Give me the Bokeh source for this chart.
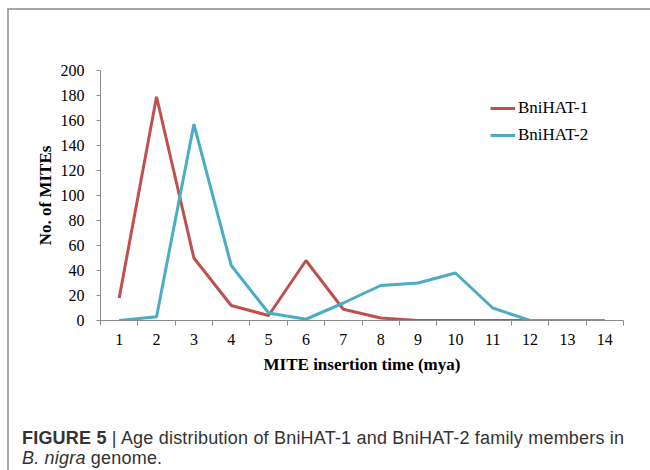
from bokeh.plotting import figure
from bokeh.layouts import column
from bokeh.models import Range1d, FixedTicker, Legend, LegendItem, Div
from bokeh.embed import file_html
from bokeh.resources import INLINE

# ---- data ----
mya = [1, 2, 3, 4, 5, 6, 7, 8, 9, 10, 11, 12, 13, 14]
hat1_x = [1, 2, 3, 4, 5, 6, 7, 8, 9, 10, 11, 12]
hat1 = [18, 179, 50, 12, 4, 48, 9, 2, 0, 0, 0, 0]
hat2 = [0, 3, 157, 44, 6, 1, 14, 28, 30, 38, 10, 0, 0, 0]
y_ticks = [0, 20, 40, 60, 80, 100, 120, 140, 160, 180, 200]
series_names = ["BniHAT-1", "BniHAT-2"]
colors = ["#C0504D", "#4BACC6"]

SERIF = "Liberation Serif"
AXIS_GRAY = "#8c8c8c"
FRAME_GRAY = "#a8a8a8"

p = figure(width=640, height=380, output_backend="svg", toolbar_location=None,
           x_range=Range1d(0.5, 14.5), y_range=Range1d(0, 200),
           min_border_left=91, min_border_right=26, min_border_top=60,
           min_border_bottom=70)
p.outline_line_color = None
p.xgrid.visible = False
p.ygrid.visible = False
p.background_fill_color = "white"
p.border_fill_color = "white"

r1 = p.line(hat1_x, hat1, line_color=colors[0], line_width=3)
r2 = p.line(mya, hat2, line_color=colors[1], line_width=3)

# x axis: labels at category centres, tick marks at category boundaries
xa = p.xaxis[0]
xa.ticker = FixedTicker(ticks=mya, minor_ticks=[m - 0.5 for m in mya] + [mya[-1] + 0.5])
xa.major_tick_out = 0
xa.major_tick_in = 0
xa.minor_tick_out = 5
xa.minor_tick_in = 0
xa.minor_tick_line_color = AXIS_GRAY
xa.axis_line_color = AXIS_GRAY
xa.major_label_text_font = SERIF
xa.major_label_text_font_size = "16px"
xa.major_label_text_color = "black"
xa.major_label_standoff = 8
xa.axis_label = "MITE insertion time (mya)"
xa.axis_label_text_font = SERIF
xa.axis_label_text_font_size = "17px"
xa.axis_label_text_font_style = "bold"
xa.axis_label_text_color = "black"
xa.axis_label_standoff = 7

ya = p.yaxis[0]
ya.ticker = FixedTicker(ticks=y_ticks, minor_ticks=[])
ya.major_tick_out = 4
ya.major_tick_in = 0
ya.major_tick_line_color = AXIS_GRAY
ya.minor_tick_line_color = None
ya.axis_line_color = AXIS_GRAY
ya.major_label_text_font = SERIF
ya.major_label_text_font_size = "16px"
ya.major_label_text_color = "black"
ya.major_label_standoff = 12
ya.axis_label = "No. of MITEs"
ya.axis_label_text_font = SERIF
ya.axis_label_text_font_size = "17px"
ya.axis_label_text_font_style = "bold"
ya.axis_label_text_color = "black"
ya.axis_label_standoff = 3

legend = Legend(items=[LegendItem(label=series_names[0], renderers=[r1]),
                       LegendItem(label=series_names[1], renderers=[r2])],
                location=(390, 175), orientation="vertical",
                glyph_width=25, glyph_height=20, label_height=20, spacing=7,
                padding=0, margin=0, label_standoff=3,
                label_text_font=SERIF, label_text_font_size="17px",
                label_text_color="black",
                border_line_color=None, background_fill_alpha=0)
p.add_layout(legend, "center")

caption_html = (
    '<div style="padding:33px 0 0 8px; font-family:\'Liberation Sans\', Arial, sans-serif; '
    'font-size:18px; letter-spacing:0.2px; line-height:20px; color:#333333; white-space:nowrap;">'
    '<b>FIGURE 5</b> | Age distribution of BniHAT-1 and BniHAT-2 family members in<br>'
    '<i>B. nigra</i> genome.</div>'
)
cap = Div(text=caption_html, width=640, height=76)

layout = column(p, cap, spacing=0)
layout.margin = (8, 0, 0, 7)
layout.styles = {"border-left": "2px solid " + FRAME_GRAY,
                 "border-top": "2px solid " + FRAME_GRAY,
                 "background-color": "white"}

open("out.html", "w").write(file_html(layout, INLINE))
